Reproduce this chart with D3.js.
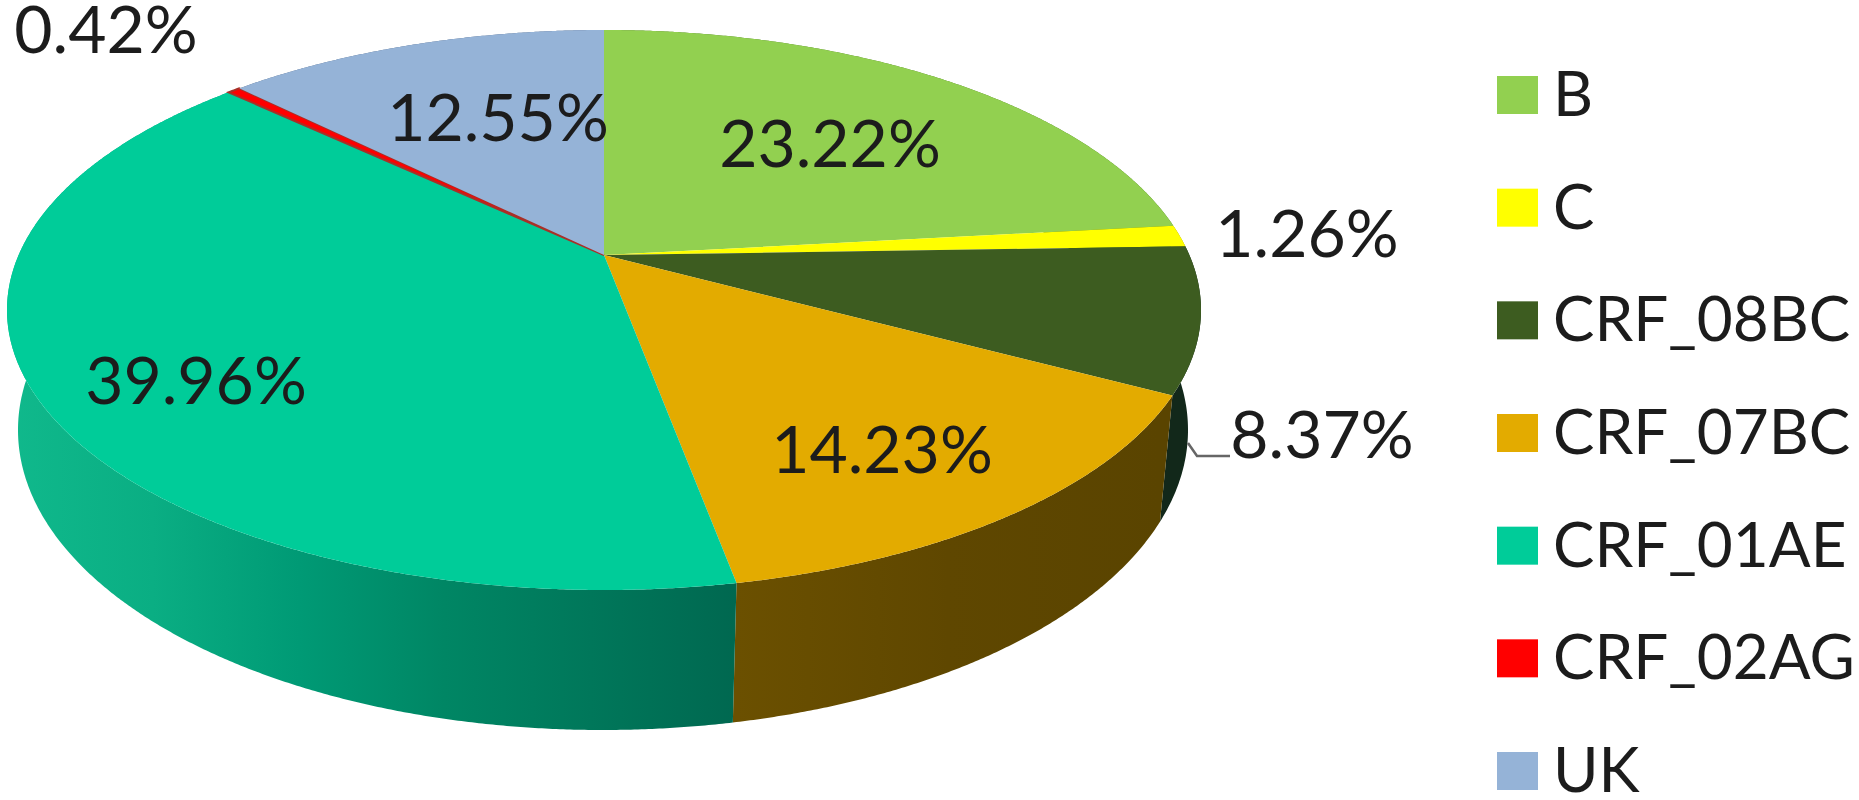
<!DOCTYPE html>
<html>
<head>
<meta charset="utf-8">
<script src="https://cdn.jsdelivr.net/npm/d3@7"></script>
<style>
  html, body { margin: 0; padding: 0; background: #fff; overflow: hidden; }
  svg { display: block; filter: blur(0.7px); }
  text { font-family: Lato, "Open Sans", sans-serif; fill: #1c1c1c; }
</style>
</head>
<body>
<div id="container"></div>
<script>
/* DATA */
const categories = ["B", "C", "CRF_08BC", "CRF_07BC", "CRF_01AE", "CRF_02AG", "UK"];
const values = [23.22, 1.26, 8.37, 14.23, 39.96, 0.42, 12.55];
const topColors = ["#92d050", "#ffff00", "#3d5c20", "#e3ab00", "#00cc99", "#ff0000", "#95b3d7"];
const sideColors = ["#4f7a24", "#8a8a00", "#12281a", "url(#sideBrown)", "url(#sideTeal)", "#8a0000", "#52698a"];

/* LAYOUT */
const width = 1859;
const height = 800;
const tilt = 0.196; // how far the pie apex sits behind the ellipse centre
const fontSize = 66;
// label centres, one per category
const labelPos = [[830, 141], [1307, 231], [1322, 432], [882, 447], [196, 378], [106, 27], [498, 115]];

const xTop = d3.scaleLinear().domain([-1, 1]).range([7, 1201]);
const yTop = d3.scaleLinear().domain([-1, 1]).range([30, 590]);
const xBottom = d3.scaleLinear().domain([-1, 1]).range([18, 1188]);
const yBottom = d3.scaleLinear().domain([-1, 1]).range([130, 730]);
const legendY = d3.scalePoint().domain(categories).range([95, 771]);

// map a pie angle on to the tilted disc, the centre moves but the rim stays an ellipse
function rim(angle) {
  const x = Math.sin(angle), y = -Math.cos(angle);
  const w = 1 - tilt * y;
  return [x * Math.sqrt(1 - tilt * tilt) / w, (y - tilt) / w];
}
const apex = [xTop(0), yTop(-tilt)];

const pie = d3.pie().sort(null).value(d => d)(values);
const line = d3.line();

function angleSteps(a0, a1) {
  const n = Math.max(2, Math.ceil((a1 - a0) / 0.005));
  return d3.range(n + 1).map(i => a0 + (a1 - a0) * i / n);
}

const svg = d3.select("#container")
  .append("svg")
  .attr("width", width)
  .attr("height", height);

const defs = svg.append("defs");

function sideGradient(id, x1, x2, stops) {
  defs.append("linearGradient")
    .attr("id", id)
    .attr("gradientUnits", "userSpaceOnUse")
    .attr("x1", x1).attr("x2", x2).attr("y1", 0).attr("y2", 0)
    .selectAll("stop")
    .data(stops)
    .join("stop")
    .attr("offset", d => d[0])
    .attr("stop-color", d => d[1]);
}
sideGradient("sideTeal", 7, 737, [[0, "#10b98c"], [0.2, "#0aae83"], [0.4, "#009a75"], [0.6, "#008664"], [0.8, "#00775a"], [1, "#006850"]]);
sideGradient("sideBrown", 737, 1160, [[0, "#6b5000"], [0.5, "#5f4700"], [1, "#5a4400"]]);

/* SIDE WALLS */
const walls = pie.map((d, i) => {
  const steps = angleSteps(d.startAngle, d.endAngle);
  const upper = steps.map(a => { const p = rim(a); return [xTop(p[0]), yTop(p[1])]; });
  const lower = steps.map(a => { const p = rim(a); return [xBottom(p[0]), yBottom(p[1])]; }).reverse();
  return { i, path: line(upper.concat(lower)) + "Z" };
});

svg.append("g").selectAll("path")
  .data(walls)
  .join("path")
  .attr("d", d => d.path)
  .attr("fill", d => sideColors[d.i]);

/* TOP FACE */
svg.append("g").selectAll("path")
  .data(pie)
  .join("path")
  .attr("d", d => {
    const pts = angleSteps(d.startAngle, d.endAngle).map(a => {
      const p = rim(a);
      return [xTop(p[0]), yTop(p[1])];
    });
    return line([apex].concat(pts)) + "Z";
  })
  .attr("fill", (d, i) => topColors[i])
  .attr("stroke", (d, i) => i === 5 ? "#a83028" : "none")
  .attr("stroke-width", 2);

/* DATA LABELS */
svg.append("g").selectAll("text")
  .data(values)
  .join("text")
  .attr("x", (d, i) => labelPos[i][0])
  .attr("y", (d, i) => labelPos[i][1])
  .attr("text-anchor", "middle")
  .attr("dominant-baseline", "central")
  .attr("font-size", fontSize)
  .text(d => d.toFixed(2) + "%");

// leader line of the 8.37% label
svg.append("path")
  .attr("d", line([[1188, 443], [1197, 456], [1230, 456]]))
  .attr("fill", "none")
  .attr("stroke", "#666")
  .attr("stroke-width", 2.5);

/* LEGEND */
const legend = svg.append("g").selectAll("g")
  .data(categories)
  .join("g")
  .attr("transform", d => `translate(1497,${legendY(d)})`);

legend.append("rect")
  .attr("y", -19)
  .attr("width", 41)
  .attr("height", 38)
  .attr("fill", (d, i) => topColors[i]);

legend.append("text")
  .attr("x", 56)
  .attr("y", -3)
  .attr("dominant-baseline", "central")
  .attr("font-size", 62)
  .text(d => d);
</script>
</body>
</html>
